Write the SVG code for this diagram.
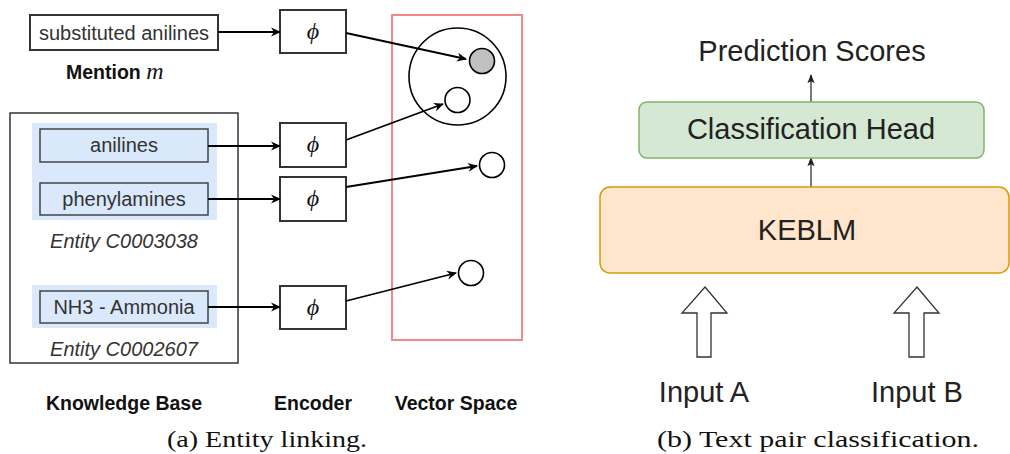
<svg xmlns="http://www.w3.org/2000/svg" width="1010" height="454" viewBox="0 0 1010 454">
  <defs>
    <style>
      .sans{font-family:"Liberation Sans",Arial,sans-serif;fill:#333}
      .lbl{font-size:20px;text-anchor:middle}
      .bold{font-weight:bold;fill:#111}
      .ital{font-style:italic}
      .serif{font-family:"Liberation Serif","Times New Roman",serif;fill:#111}
      .box{fill:#fff;stroke:#333;stroke-width:2}
      .ent{fill:#dae8fc;stroke:#444;stroke-width:1.5}
      .bg{fill:#dae8fc;stroke:none}
      .conn{stroke:#000;stroke-width:1.8;fill:none;marker-end:url(#arr)}
      .conn2{stroke:#333;stroke-width:1.3;fill:none;marker-end:url(#arr2)}
      .pt{fill:#fff;stroke:#000;stroke-width:1.6}
      .big{font-size:29px;text-anchor:middle;fill:#222}
      .cap{font-size:24px;text-anchor:middle}
      .blk{fill:#fff;stroke:#333;stroke-width:1.3}
    </style>
    <marker id="arr" viewBox="0 0 10 10" refX="9" refY="5" markerWidth="10" markerHeight="10" markerUnits="userSpaceOnUse" orient="auto">
      <path d="M0,0.5 L10,5 L0,9.5 L3,5 Z" fill="#000"/>
    </marker>
    <marker id="arr2" viewBox="0 0 10 10" refX="9" refY="5" markerWidth="9" markerHeight="9" markerUnits="userSpaceOnUse" orient="auto">
      <path d="M0,1 L10,5 L0,9 L2,5 Z" fill="#222"/>
    </marker>
  </defs>

  <!-- (a) Entity linking -->
  <g id="mention">
    <rect class="box" x="30" y="15" width="188" height="35"/>
    <text class="sans lbl" x="124" y="39.5">substituted anilines</text>
    <text class="sans bold" x="66" y="79" font-size="19.5">Mention <tspan class="serif ital" font-weight="normal" font-size="24">m</tspan></text>
  </g>

  <g id="knowledge-base">
    <rect x="10" y="113" width="228" height="250" fill="#fff" stroke="#333" stroke-width="1.5"/>
    <rect class="bg" x="32" y="123" width="185" height="97"/>
    <rect class="bg" x="32" y="285" width="185" height="43"/>
  </g>
  <g id="anilines">
    <rect class="ent" x="40" y="129" width="168" height="33"/>
    <text class="sans lbl" x="124" y="152">anilines</text>
  </g>
  <g id="phenylamines">
    <rect class="ent" x="40" y="183" width="168" height="32"/>
    <text class="sans lbl" x="124" y="206">phenylamines</text>
  </g>
  <g id="entity1-label">
    <text class="sans lbl ital" x="124" y="248">Entity C0003038</text>
  </g>
  <g id="nh3">
    <rect class="ent" x="40" y="291" width="168" height="32"/>
    <text class="sans lbl" x="124" y="314">NH3 - Ammonia</text>
  </g>
  <g id="entity2-label">
    <text class="sans lbl ital" x="124" y="356">Entity C0002607</text>
  </g>

  <g id="phi1"><rect class="box" x="280" y="10" width="66" height="43"/><text class="serif ital" x="313" y="39" font-size="24" text-anchor="middle">ϕ</text></g>
  <g id="phi2"><rect class="box" x="280" y="123" width="66" height="44"/><text class="serif ital" x="313" y="152" font-size="24" text-anchor="middle">ϕ</text></g>
  <g id="phi3"><rect class="box" x="280" y="177" width="66" height="44"/><text class="serif ital" x="313" y="206" font-size="24" text-anchor="middle">ϕ</text></g>
  <g id="phi4"><rect class="box" x="280" y="286" width="66" height="43"/><text class="serif ital" x="313" y="315" font-size="24" text-anchor="middle">ϕ</text></g>

  <g id="vector-space">
    <rect x="392" y="15" width="130" height="325" fill="none" stroke="#f08a87" stroke-width="2"/>
    <circle cx="457.5" cy="76.5" r="48.5" fill="none" stroke="#000" stroke-width="1.6"/>
    <circle cx="482" cy="61" r="12.5" fill="#c0c0c0" stroke="#000" stroke-width="1.6"/>
    <circle class="pt" cx="457.5" cy="100" r="12.5"/>
    <circle class="pt" cx="492" cy="165" r="12.5"/>
    <circle class="pt" cx="471" cy="273" r="12.5"/>
  </g>

  <g id="connectors">
    <path class="conn" d="M218,32 L280,32"/>
    <path class="conn" d="M208,146 L280,146"/>
    <path class="conn" d="M208,199 L280,199"/>
    <path class="conn" d="M208,307 L280,307"/>
    <path class="conn" d="M346,33 L466,59"/>
    <path class="conn" d="M346,140 L443,104"/>
    <path class="conn" d="M346,187 L477,166"/>
    <path class="conn" d="M346,301 L456,273"/>
    <path class="conn2" d="M811,102 L811,75"/>
    <path class="conn2" d="M811,187 L811,158"/>
  </g>

  <g id="column-labels">
    <text class="sans bold" x="124" y="410" font-size="19.5" text-anchor="middle">Knowledge Base</text>
    <text class="sans bold" x="313" y="410" font-size="19.5" text-anchor="middle">Encoder</text>
    <text class="sans bold" x="456" y="410" font-size="19.5" text-anchor="middle">Vector Space</text>
  </g>
  <g id="caption-a">
    <text class="serif cap" x="267" y="447" textLength="200" lengthAdjust="spacingAndGlyphs">(a) Entity linking.</text>
  </g>

  <!-- (b) Text pair classification -->
  <g id="prediction-scores">
    <text class="sans big" x="812" y="61">Prediction Scores</text>
  </g>
  <g id="classification-head">
    <rect x="639" y="102" width="345" height="56" rx="8" fill="#d5e8d4" stroke="#82b366" stroke-width="1.5"/>
    <text class="sans big" x="811" y="139">Classification Head</text>
  </g>
  <g id="keblm">
    <rect x="600" y="187" width="409" height="86" rx="10" fill="#ffe6cc" stroke="#d79b00" stroke-width="1.5"/>
    <text class="sans big" x="807" y="240">KEBLM</text>
  </g>
  <g id="input-a">
    <path class="blk" d="M705,287 L727,313 L711,313 L711,357 L697,357 L697,313 L682,313 Z"/>
    <text class="sans big" x="704" y="402">Input A</text>
  </g>
  <g id="input-b">
    <path class="blk" d="M917,287 L939,313 L924,313 L924,357 L909,357 L909,313 L894,313 Z"/>
    <text class="sans big" x="917" y="402">Input B</text>
  </g>
  <g id="caption-b">
    <text class="serif cap" x="818" y="447" textLength="322" lengthAdjust="spacingAndGlyphs">(b) Text pair classification.</text>
  </g>
</svg>
